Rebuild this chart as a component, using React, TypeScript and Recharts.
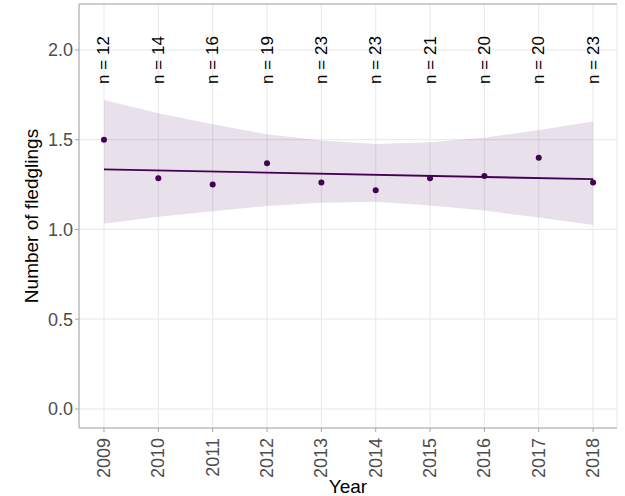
import {
  ComposedChart,
  Area,
  Line,
  Scatter,
  XAxis,
  YAxis,
  CartesianGrid
} from 'recharts';

const years = [2009, 2010, 2011, 2012, 2013, 2014, 2015, 2016, 2017, 2018];
const sampleSizes = [12, 14, 16, 19, 23, 23, 21, 20, 20, 23];
const meanFledglings = [1.5, 1.285, 1.25, 1.369, 1.261, 1.218, 1.285, 1.298, 1.4, 1.261];
const ciLower = [1.032, 1.071, 1.102, 1.131, 1.149, 1.155, 1.133, 1.105, 1.066, 1.025];
const ciUpper = [1.721, 1.647, 1.586, 1.53, 1.495, 1.476, 1.486, 1.511, 1.554, 1.601];
// fitted trend line, only the two ends are needed for a straight line
const fitStart = 1.335;
const fitEnd = 1.28;
const yTicks = [0, 0.5, 1, 1.5, 2];

const PURPLE = '#440154';
const FONT = '"Liberation Sans", Arial, sans-serif';
const X_DOMAIN = [2008.54, 2018.44];
const Y_DOMAIN = [-0.106, 2.256];

const data = years.map((year, i) => ({
  year,
  n: sampleSizes[i],
  mean: meanFledglings[i],
  lo: ciLower[i],
  hi: ciUpper[i],
  fit: i === 0 ? fitStart : i === years.length - 1 ? fitEnd : null
}));

function BottomTick({ x, y, payload }: any) {
  return (
    <text
      x={x}
      y={y + 4}
      transform={`rotate(-90, ${x}, ${y + 4})`}
      textAnchor="end"
      dominantBaseline="central"
      fontSize={18}
      fill="#4d4d4d"
      fontFamily={FONT}
    >
      {payload.value}
    </text>
  );
}

// sample size labels, drawn at a fixed height near the top of the panel
function CountLabel({ cx, payload }: any) {
  const cy = 60;
  return (
    <text
      x={cx}
      y={cy}
      transform={`rotate(-90, ${cx}, ${cy})`}
      textAnchor="middle"
      dominantBaseline="central"
      fontSize={17}
      fill="#000"
      fontFamily={FONT}
    >
      {`n = ${payload.n}`}
    </text>
  );
}

function YTitle({ viewBox }: any) {
  const cx = viewBox.x + 31;
  const cy = viewBox.y + viewBox.height / 2;
  return (
    <text
      x={cx}
      y={cy}
      transform={`rotate(-90, ${cx}, ${cy})`}
      textAnchor="middle"
      dominantBaseline="central"
      fontSize={19}
      fill="#000"
      fontFamily={FONT}
    >
      Number of fledglings
    </text>
  );
}

function XTitle({ viewBox }: any) {
  return (
    <text
      x={viewBox.x + viewBox.width / 2}
      y={493}
      textAnchor="middle"
      fontSize={19}
      fill="#000"
      fontFamily={FONT}
    >
      Year
    </text>
  );
}

export default function App() {
  return (
    <div style={{ position: 'absolute', left: 0, top: 0, background: '#fff' }}>
      <ComposedChart
        width={625}
        height={496}
        data={data}
        margin={{ top: 3, right: 8, left: 0, bottom: 0 }}
      >
        <CartesianGrid
          xAxisId="bottom"
          yAxisId="left"
          stroke="#ebebeb"
          strokeWidth={1.2}
        />
        <XAxis
          xAxisId="bottom"
          dataKey="year"
          type="number"
          domain={X_DOMAIN}
          ticks={years}
          height={68}
          stroke="#a6a6a6"
          tickSize={4}
          tick={<BottomTick />}
          label={<XTitle />}
        />
        <XAxis
          xAxisId="top"
          orientation="top"
          dataKey="year"
          type="number"
          domain={X_DOMAIN}
          ticks={years}
          height={1}
          stroke="#a6a6a6"
          tickLine={false}
          tick={false}
        />
        <YAxis
          yAxisId="left"
          type="number"
          domain={Y_DOMAIN}
          ticks={yTicks}
          width={79}
          stroke="#a6a6a6"
          tickSize={4}
          tickFormatter={(v: number) => v.toFixed(1)}
          tick={{ fontSize: 18, fill: '#4d4d4d', fontFamily: FONT }}
          label={<YTitle />}
        />
        <YAxis
          yAxisId="right"
          orientation="right"
          type="number"
          domain={Y_DOMAIN}
          width={0}
          stroke="#a6a6a6"
          tick={false}
          tickLine={false}
        />
        <Area
          xAxisId="bottom"
          yAxisId="left"
          dataKey={(d: any) => [d.lo, d.hi]}
          fill={PURPLE}
          fillOpacity={0.12}
          stroke="none"
          isAnimationActive={false}
        />
        <Line
          xAxisId="bottom"
          yAxisId="left"
          dataKey="fit"
          stroke={PURPLE}
          strokeWidth={1.8}
          dot={false}
          connectNulls
          isAnimationActive={false}
        />
        <Scatter
          xAxisId="bottom"
          yAxisId="left"
          dataKey="mean"
          fill={PURPLE}
          isAnimationActive={false}
          shape={(p: any) => <circle cx={p.cx} cy={p.cy} r={3} fill={PURPLE} />}
        />
        <Scatter
          xAxisId="bottom"
          yAxisId="left"
          dataKey="mean"
          isAnimationActive={false}
          shape={<CountLabel />}
        />
      </ComposedChart>
    </div>
  );
}
